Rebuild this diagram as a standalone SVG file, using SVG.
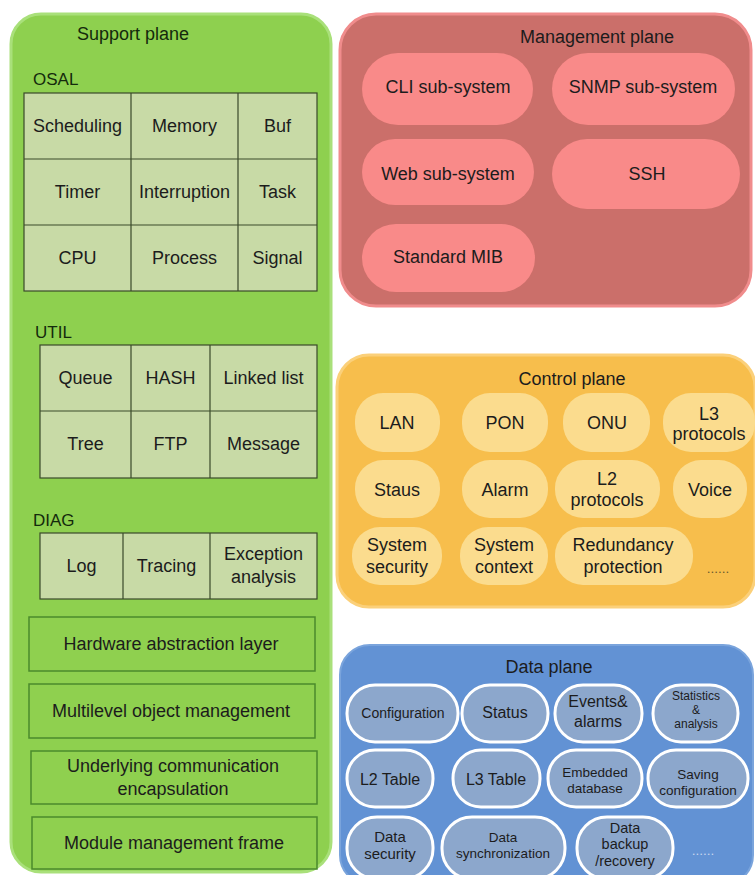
<svg xmlns="http://www.w3.org/2000/svg" width="755" height="875" viewBox="0 0 755 875">
<style>
text{font-family:"Liberation Sans",Arial,sans-serif;font-size:18px;fill:#1c1c1c;text-anchor:middle}
.lbl{text-anchor:start;font-size:17px;fill:#142a0c}
.sm{font-size:13.5px}
.xs{font-size:12px}
.md{font-size:15px}
.cell{fill:#c8daa6;stroke:#3a4a2a;stroke-width:1.2}
.hbox{fill:#8fd04f;stroke:#4b8a2c;stroke-width:1.5}
.mpill{fill:#f98a89}
.cpill{fill:#fbdc8e}
.dpill{fill:#8ca7cc;stroke:#ffffff;stroke-width:3}
</style>
<rect width="755" height="875" fill="#ffffff"/>

<g id="support-plane">
<rect x="11" y="14" width="320" height="858" rx="30" fill="#8ed04f" stroke="#a9e07a" stroke-width="3"/>
<text x="133" y="40" style="fill:#142a0c">Support plane</text>
</g>

<g id="osal">
<text class="lbl" x="33" y="85">OSAL</text>
<rect class="cell" x="24" y="93" width="293" height="198"/>
<path d="M131 93V291M238 93V291M24 159H317M24 225H317" stroke="#3a4a2a" stroke-width="1.2" fill="none"/>
<text x="77.5" y="132">Scheduling</text><text x="184.5" y="132">Memory</text><text x="277.5" y="132">Buf</text>
<text x="77.5" y="198">Timer</text><text x="184.5" y="198">Interruption</text><text x="277.5" y="198">Task</text>
<text x="77.5" y="264">CPU</text><text x="184.5" y="264">Process</text><text x="277.5" y="264">Signal</text>
</g>

<g id="util">
<text class="lbl" x="35" y="338">UTIL</text>
<rect class="cell" x="40" y="345" width="277" height="133"/>
<path d="M131 345V478M210 345V478M40 411H317" stroke="#3a4a2a" stroke-width="1.2" fill="none"/>
<text x="85.5" y="384">Queue</text><text x="170.5" y="384">HASH</text><text x="263.5" y="384">Linked list</text>
<text x="85.5" y="450">Tree</text><text x="170.5" y="450">FTP</text><text x="263.5" y="450">Message</text>
</g>

<g id="diag">
<text class="lbl" x="33" y="526">DIAG</text>
<rect class="cell" x="40" y="533" width="277" height="66"/>
<path d="M123 533V599M210 533V599" stroke="#3a4a2a" stroke-width="1.2" fill="none"/>
<text x="81.5" y="572">Log</text><text x="166.5" y="572">Tracing</text>
<text x="263.5" y="560">Exception</text><text x="263.5" y="583">analysis</text>
</g>

<g id="hal"><rect class="hbox" x="29" y="617" width="286" height="54"/><text x="171" y="650">Hardware abstraction layer</text></g>
<g id="multilevel"><rect class="hbox" x="29" y="684" width="286" height="54"/><text x="171" y="717">Multilevel object management</text></g>
<g id="underlying"><rect class="hbox" x="31" y="751" width="286" height="53"/><text x="173" y="772">Underlying communication</text><text x="173" y="795">encapsulation</text></g>
<g id="module-frame"><rect class="hbox" x="32" y="817" width="285" height="52"/><text x="174" y="849">Module management frame</text></g>

<g id="management-plane">
<rect x="340" y="14" width="411" height="292" rx="36" fill="#cb6f6a" stroke="#f08c8c" stroke-width="3"/>
<text x="597" y="43">Management plane</text>
</g>
<g id="cli"><rect class="mpill" x="362" y="53" width="171" height="72" rx="36"/><text x="448" y="93">CLI sub-system</text></g>
<g id="snmp"><rect class="mpill" x="552" y="53" width="183" height="72" rx="36"/><text x="643" y="93">SNMP sub-system</text></g>
<g id="web"><rect class="mpill" x="362" y="139" width="172" height="66" rx="33"/><text x="448" y="180">Web sub-system</text></g>
<g id="ssh"><rect class="mpill" x="552" y="139" width="188" height="70" rx="35"/><text x="647" y="180">SSH</text></g>
<g id="standard-mib"><rect class="mpill" x="362" y="224" width="173" height="68" rx="34"/><text x="448" y="263">Standard MIB</text></g>

<g id="control-plane">
<rect x="337" y="355" width="418" height="252" rx="32" fill="#f7be4c" stroke="#fbd07a" stroke-width="3"/>
<text x="572" y="385">Control plane</text>
</g>
<g id="lan"><rect class="cpill" x="355" y="393" width="85" height="59" rx="28"/><text x="397" y="429">LAN</text></g>
<g id="pon"><rect class="cpill" x="462" y="393" width="86" height="59" rx="28"/><text x="505" y="429">PON</text></g>
<g id="onu"><rect class="cpill" x="563" y="393" width="87" height="59" rx="28"/><text x="607" y="429">ONU</text></g>
<g id="l3-protocols"><rect class="cpill" x="663" y="393" width="92" height="59" rx="28"/><text x="709" y="420">L3</text><text x="709" y="440">protocols</text></g>
<g id="staus"><rect class="cpill" x="355" y="460" width="85" height="58" rx="28"/><text x="397" y="496">Staus</text></g>
<g id="alarm"><rect class="cpill" x="462" y="460" width="86" height="58" rx="28"/><text x="505" y="496">Alarm</text></g>
<g id="l2-protocols"><rect class="cpill" x="555" y="460" width="105" height="58" rx="28"/><text x="607" y="485">L2</text><text x="607" y="506">protocols</text></g>
<g id="voice"><rect class="cpill" x="673" y="460" width="74" height="58" rx="28"/><text x="710" y="496">Voice</text></g>
<g id="system-security"><rect class="cpill" x="352" y="527" width="90" height="58" rx="28"/><text x="397" y="551">System</text><text x="397" y="573">security</text></g>
<g id="system-context"><rect class="cpill" x="460" y="527" width="88" height="58" rx="28"/><text x="504" y="551">System</text><text x="504" y="573">context</text></g>
<g id="redundancy"><rect class="cpill" x="555" y="527" width="138" height="58" rx="28"/><text x="623" y="551">Redundancy</text><text x="623" y="573">protection</text></g>
<text x="718" y="573" class="sm" style="fill:#6a5a30">......</text>

<g id="data-plane">
<rect x="340" y="645" width="413" height="240" rx="30" fill="#6292d4" stroke="#7aa4dc" stroke-width="2"/>
<text x="549" y="673">Data plane</text>
</g>
<g id="configuration"><rect class="dpill" x="347" y="685" width="111" height="57" rx="28"/><text x="403" y="718" style="font-size:14px">Configuration</text></g>
<g id="status"><rect class="dpill" x="462" y="685" width="86" height="57" rx="28"/><text x="505" y="718" style="font-size:16px">Status</text></g>
<g id="events"><rect class="dpill" x="555" y="685" width="87" height="57" rx="28"/><text x="598" y="707" style="font-size:16px">Events&amp;</text><text x="598" y="727" style="font-size:16px">alarms</text></g>
<g id="statistics"><rect class="dpill" x="653" y="685" width="85" height="57" rx="28"/><text x="696" y="700" class="xs">Statistics</text><text x="696" y="714" class="xs">&amp;</text><text x="696" y="728" class="xs">analysis</text></g>
<g id="l2-table"><rect class="dpill" x="347" y="750" width="86" height="57" rx="28"/><text x="390" y="785" style="font-size:16px">L2 Table</text></g>
<g id="l3-table"><rect class="dpill" x="453" y="750" width="87" height="57" rx="28"/><text x="496" y="785" style="font-size:16px">L3 Table</text></g>
<g id="embedded-db"><rect class="dpill" x="548" y="750" width="94" height="57" rx="28"/><text x="595" y="777" class="sm">Embedded</text><text x="595" y="793" class="sm">database</text></g>
<g id="saving-config"><rect class="dpill" x="648" y="750" width="100" height="57" rx="28"/><text x="698" y="779" class="sm">Saving</text><text x="698" y="795" class="sm">configuration</text></g>
<g id="data-security"><rect class="dpill" x="347" y="817" width="86" height="62" rx="30"/><text x="390" y="842" class="md">Data</text><text x="390" y="859" class="md">security</text></g>
<g id="data-sync"><rect class="dpill" x="442" y="817" width="123" height="62" rx="30"/><text x="503" y="842" class="sm">Data</text><text x="503" y="858" class="sm">synchronization</text></g>
<g id="data-backup"><rect class="dpill" x="577" y="817" width="96" height="62" rx="30"/><text x="625" y="833" style="font-size:14.5px">Data</text><text x="625" y="849" style="font-size:14.5px">backup</text><text x="625" y="866" style="font-size:14.5px">/recovery</text></g>
<text x="703" y="855" class="sm" style="fill:#c8d6ee">......</text>
</svg>
